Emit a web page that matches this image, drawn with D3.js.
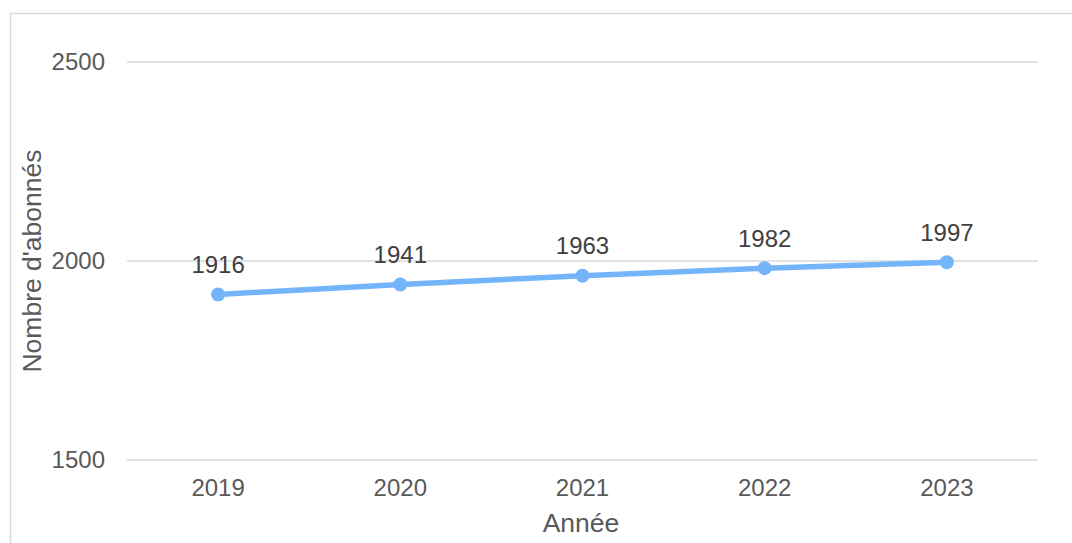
<!DOCTYPE html>
<html><head><meta charset="utf-8">
<script src="https://cdn.jsdelivr.net/npm/d3@7"></script>
<style>body{margin:0;background:#fff;}svg{display:block;font-family:"Liberation Sans",Arial,sans-serif;}</style>
</head><body>
<svg id="c" width="1072" height="543"></svg>
<script>
const years = ["2019","2020","2021","2022","2023"];
const subscribers = [1916,1941,1963,1982,1997];
const yTicks = [1500,2000,2500];
const xTitle = "Année";
const yTitle = "Nombre d'abonnés";

const svg = d3.select("#c");
svg.append("rect").attr("x",10.5).attr("y",13.5).attr("width",1080).attr("height",560)
  .attr("fill","none").attr("stroke","#d9d9d9").attr("stroke-width",1.5);

const x = d3.scaleBand().domain(years).range([127,1038]);
const y = d3.scaleLinear().domain([1500,2500]).range([460,62]);

const g = svg.append("g");
g.selectAll("line.grid").data(yTicks).enter().append("line")
  .attr("x1",127).attr("x2",1038).attr("y1",d=>y(d)).attr("y2",d=>y(d))
  .attr("stroke","#d9d9d9").attr("stroke-width",1.5);

g.selectAll("text.yt").data(yTicks).enter().append("text")
  .attr("x",105).attr("y",d=>y(d)).attr("dy","0.35em").attr("text-anchor","end")
  .attr("font-size",24).attr("fill","#595959").text(d=>d);

g.selectAll("text.xt").data(years).enter().append("text")
  .attr("x",d=>x(d)+x.bandwidth()/2).attr("y",488).attr("dy","0.35em").attr("text-anchor","middle")
  .attr("font-size",24).attr("fill","#595959").text(d=>d);

const line = d3.line().x((d,i)=>x(years[i])+x.bandwidth()/2).y(d=>y(d));
g.append("path").datum(subscribers).attr("d",line).attr("fill","none")
  .attr("stroke","#74b5f9").attr("stroke-width",5.5).attr("stroke-linecap","round");
g.selectAll("circle").data(subscribers).enter().append("circle")
  .attr("cx",(d,i)=>x(years[i])+x.bandwidth()/2).attr("cy",d=>y(d)).attr("r",7)
  .attr("fill","#74b5f9");
g.selectAll("text.dl").data(subscribers).enter().append("text")
  .attr("x",(d,i)=>x(years[i])+x.bandwidth()/2).attr("y",d=>y(d)-30).attr("dy","0.35em")
  .attr("text-anchor","middle").attr("font-size",24).attr("fill","#404040").text(d=>d);

svg.append("text").attr("x",581).attr("y",523).attr("dy","0.35em").attr("text-anchor","middle")
  .attr("font-size",26.5).attr("fill","#595959").text(xTitle);
svg.append("text").attr("transform","translate(32,261) rotate(-90)").attr("dy","0.35em")
  .attr("text-anchor","middle").attr("font-size",26.5).attr("fill","#595959").text(yTitle);
</script>
</body></html>
